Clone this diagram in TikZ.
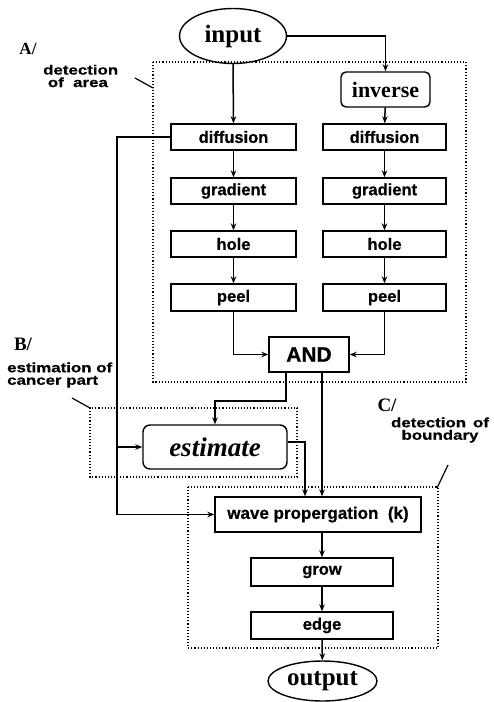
\documentclass[tikz,border=0pt]{standalone}
\usepackage{fontspec}
\setmainfont{Liberation Serif}
\newfontfamily\hv[FakeBold=0.6]{Liberation Sans}
\newfontfamily\hvlab[FakeStretch=1.25,FakeBold=0.6]{Liberation Sans}
\usetikzlibrary{arrows.meta,shapes.geometric}
\tikzset{
  proc/.style={draw,line width=1.4pt,inner sep=0pt,font=\hv\bfseries\fontsize{16.5}{18}\selectfont},
  rproc/.style={proc,rounded corners=5pt},
  oval/.style={draw,ellipse,line width=1.4pt,inner sep=0pt,font=\bfseries\fontsize{25}{28}\selectfont},
  arr/.style={line width=1.5pt,-{Stealth[length=7pt,width=5.5pt]}},
  grp/.style={line width=1.1pt,dotted},
  lead/.style={line width=1.2pt},
  tag/.style={inner sep=0pt,font=\bfseries\fontsize{19}{20}\selectfont},
  note/.style={inner sep=0pt,font=\hvlab\bfseries\fontsize{13.5}{12.5}\selectfont}
}
\begin{document}
\begin{tikzpicture}[x=1pt,y=-1pt]
\useasboundingbox (0,0) rectangle (494,702);
% groups
\draw[grp] (153,62) rectangle (466,382);
\draw[grp] (90,408) rectangle (297,477);
\draw[grp] (188,487) rectangle (438,648);
% nodes
\node[oval,minimum width=107pt,minimum height=55pt] (input) at (233,36) {input};
\node[rproc,minimum width=89pt,minimum height=35pt,font=\bfseries\fontsize{22}{24}\selectfont] (inv) at (385.5,89.5) {inverse};
\node[proc,minimum width=125pt,minimum height=26pt] (dif1) at (233.5,137) {diffusion};
\node[proc,minimum width=123pt,minimum height=26pt] (dif2) at (384.5,137) {diffusion};
\node[proc,minimum width=125pt,minimum height=26pt] (gra1) at (233.5,191) {gradient};
\node[proc,minimum width=123pt,minimum height=26pt] (gra2) at (384.5,191) {gradient};
\node[proc,minimum width=125pt,minimum height=26pt] (hol1) at (233.5,244) {hole};
\node[proc,minimum width=123pt,minimum height=26pt] (hol2) at (384.5,244) {hole};
\node[proc,minimum width=125pt,minimum height=27pt] (pee1) at (233.5,297.5) {peel};
\node[proc,minimum width=123pt,minimum height=27pt] (pee2) at (384.5,297.5) {peel};
\node[proc,minimum width=80pt,minimum height=35pt,font=\hv\bfseries\fontsize{21}{23}\selectfont] (and) at (309,354.5) {AND};
\node[rproc,minimum width=144pt,minimum height=44pt,rounded corners=7pt,font=\bfseries\itshape\fontsize{27}{29}\selectfont] (est) at (215,447) {estimate};
\node[proc,minimum width=206pt,minimum height=35pt,font=\hv\bfseries\fontsize{17}{19}\selectfont] (wave) at (318,514.5) {wave propergation\ \ (k)};
\node[proc,minimum width=142pt,minimum height=28pt] (grow) at (322,572) {grow};
\node[proc,minimum width=142pt,minimum height=27pt] (edge) at (322,625.5) {edge};
\node[oval,minimum width=109pt,minimum height=40pt] (out) at (322.5,681) {output};
% labels
\node[tag,font=\bfseries\fontsize{17}{18}\selectfont] (ta) at (28,49) {A/};
\node[note,anchor=west,align=left] (na) at (43,76) {detection\\\ of\ \ area};
\draw[lead] (135,78) coordinate (la1) -- (153,88) coordinate (la2);
\node[tag] (tb) at (23,344) {B/};
\node[note,anchor=west,align=left] (nb) at (7,375) {estimation of\\cancer part};
\draw[lead] (72,398) coordinate (lb1) -- (90,408) coordinate (lb2);
\node[tag] (tc) at (387,405) {C/};
\node[note,align=center] (nc) at (440,430) {detection\ \,of\\boundary};
\draw[lead] (448,465) coordinate (lc1) -- (437,488) coordinate (lc2);
% connectors
\draw[arr] (input.south) -- (dif1.north);
\draw[arr] (input.east) -| (inv.north);
\draw[arr] (inv) -- (dif2);
\draw[arr] (dif1) -- (gra1);
\draw[arr] (gra1) -- (hol1);
\draw[arr] (hol1) -- (pee1);
\draw[arr] (dif2) -- (gra2);
\draw[arr] (gra2) -- (hol2);
\draw[arr] (hol2) -- (pee2);
\draw[arr] (pee1.south) |- (and.west);
\draw[arr] (pee2.south) |- (and.east);
\coordinate (fb) at (117,137);
\coordinate (fbl) at (117,514.5);
\draw[arr] (dif1.west) -- (fb) -- (fbl) -- (wave.west);
\draw[arr] (fb |- est.west) -- (est.west);
\coordinate (a1) at (286,372);
\coordinate (a2) at (286,401);
\draw[arr] (a1) -- (a2) -| (est.north);
\coordinate (a3) at (322,372);
\draw[arr] (a3) -- (a3 |- wave.north);
\coordinate (e1) at (305,442);
\draw[arr] (est.east |- e1) -- (e1) -- (e1 |- wave.north);
\draw[arr] (grow.north |- wave.south) -- (grow.north);
\draw[arr] (grow) -- (edge);
\draw[arr] (edge) -- (out);
\end{tikzpicture}
\end{document}
